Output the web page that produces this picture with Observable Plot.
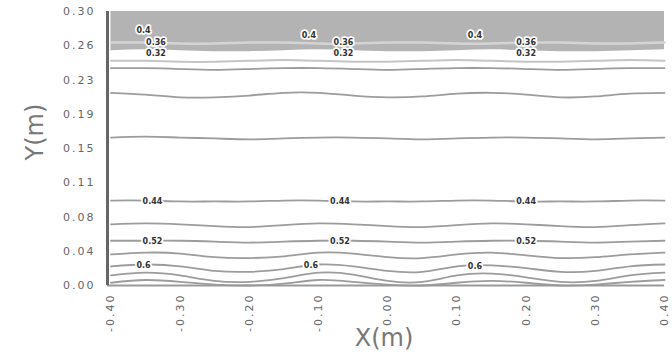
<!DOCTYPE html>
<html>
<head>
<meta charset="utf-8">
<script src="https://cdn.jsdelivr.net/npm/d3@7"></script>
<script src="https://cdn.jsdelivr.net/npm/@observablehq/plot@0.6"></script>
<style>
  html, body { margin: 0; padding: 0; background: #fff; }
  #chart svg { display: block; }
  g[aria-label="x-axis tick label"] text, g[aria-label="y-axis tick label"] text { letter-spacing: 2px; }
  g[aria-label="contour-label"] text { letter-spacing: 2.5px; }
  g[aria-label="axis-title"] text { letter-spacing: 4px; }
</style>
</head>
<body>
<div id="chart"></div>
<script>
// ---- data ----
const xs = [-0.4, -0.35, -0.3, -0.25, -0.2, -0.15, -0.1, -0.05, 0, 0.05, 0.1, 0.15, 0.2, 0.25, 0.3, 0.35, 0.4];

// lower edge of the shaded top band
const bandEdge = [0.257, 0.258, 0.257, 0.256, 0.256, 0.257, 0.258, 0.257, 0.256, 0.256, 0.257, 0.258, 0.257, 0.256, 0.256, 0.257, 0.258];
const bandStreak = [0.266, 0.266, 0.265, 0.265, 0.266, 0.266, 0.265, 0.265, 0.266, 0.266, 0.265, 0.265, 0.266, 0.266, 0.265, 0.265, 0.266];

const lineA = [0.246, 0.246, 0.245, 0.245, 0.246, 0.247, 0.246, 0.245, 0.245, 0.246, 0.247, 0.246, 0.245, 0.245, 0.246, 0.247, 0.246];
const lineB = [0.238, 0.238, 0.237, 0.236, 0.237, 0.238, 0.238, 0.237, 0.236, 0.237, 0.238, 0.238, 0.237, 0.236, 0.237, 0.238, 0.238];
const lineC = [0.211, 0.209, 0.206, 0.206, 0.208, 0.211, 0.211, 0.208, 0.206, 0.207, 0.210, 0.211, 0.209, 0.206, 0.207, 0.210, 0.211];
const lineD = [0.162, 0.163, 0.162, 0.161, 0.160, 0.161, 0.162, 0.162, 0.161, 0.160, 0.161, 0.162, 0.162, 0.161, 0.160, 0.161, 0.162];
const lineE = [0.093, 0.093, 0.092, 0.092, 0.092, 0.093, 0.093, 0.092, 0.092, 0.092, 0.093, 0.093, 0.092, 0.092, 0.092, 0.093, 0.093];
const lineF = [0.067, 0.068, 0.067, 0.065, 0.064, 0.066, 0.068, 0.067, 0.065, 0.064, 0.066, 0.068, 0.067, 0.065, 0.064, 0.066, 0.068];
const lineG = [0.049, 0.049, 0.049, 0.048, 0.047, 0.048, 0.049, 0.049, 0.048, 0.047, 0.048, 0.049, 0.049, 0.048, 0.047, 0.048, 0.049];
const lineH = [0.034, 0.036, 0.035, 0.031, 0.030, 0.032, 0.036, 0.035, 0.031, 0.030, 0.034, 0.036, 0.033, 0.030, 0.031, 0.034, 0.036];
const lineI = [0.021, 0.023, 0.021, 0.016, 0.015, 0.018, 0.023, 0.021, 0.016, 0.015, 0.021, 0.022, 0.019, 0.015, 0.016, 0.021, 0.023];
const lineJ = [0.011, 0.014, 0.011, 0.005, 0.004, 0.008, 0.014, 0.012, 0.005, 0.004, 0.011, 0.013, 0.009, 0.004, 0.005, 0.011, 0.014];
const lineK = [0.003, 0.006, 0.004, 0.001, 0.000, 0.002, 0.006, 0.004, 0.001, 0.000, 0.003, 0.005, 0.003, 0.000, 0.001, 0.004, 0.006];

const labelText = ["0.4", "0.36", "0.32", "0.4", "0.36", "0.32", "0.4", "0.36", "0.32",
                   "0.44", "0.44", "0.44", "0.52", "0.52", "0.52", "0.6", "0.6", "0.6"];
const labelX = [-0.353, -0.335, -0.335, -0.114, -0.064, -0.064, 0.126, 0.2, 0.2,
                -0.34, -0.069, 0.2, -0.34, -0.069, 0.2, -0.353, -0.111, 0.126];
const labelY = [0.279, 0.266, 0.254, 0.274, 0.266, 0.254, 0.274, 0.266, 0.254,
                0.092, 0.092, 0.092, 0.048, 0.048, 0.048, 0.022, 0.022, 0.021];

const xTicks = [-0.4, -0.3, -0.2, -0.1, 0, 0.1, 0.2, 0.3, 0.4];
const xTickLabels = ["-0.40", "-0.30", "-0.20", "-0.10", "0.00", "0.10", "0.20", "0.30", "0.40"];
const yTicks = [0, 0.0375, 0.075, 0.1125, 0.15, 0.1875, 0.225, 0.2625, 0.3];
const yTickLabels = ["0.00", "0.04", "0.08", "0.11", "0.15", "0.19", "0.23", "0.26", "0.30"];

// ---- tables built from the arrays ----
const band = xs.map((x, i) => ({x, y1: bandEdge[i]}));
const darkLines = {C: lineC, D: lineD, E: lineE, F: lineF, G: lineG, H: lineH, I: lineI, J: lineJ, K: lineK, B: lineB};
const contourRows = [];
for (const [k, arr] of Object.entries(darkLines)) arr.forEach((y, i) => contourRows.push({x: xs[i], y, k}));
const lightRows = lineA.map((y, i) => ({x: xs[i], y}));
const streakRows = bandStreak.map((y, i) => ({x: xs[i], y}));
const labels = labelText.map((t, i) => ({t, x: labelX[i], y: labelY[i]}));

const chart = Plot.plot({
  width: 672,
  height: 361,
  marginLeft: 107,
  marginRight: 8,
  marginTop: 11,
  marginBottom: 76,
  style: {background: "#fff", fontFamily: "DejaVu Sans, sans-serif"},
  x: {domain: [-0.405, 0.4]},
  y: {domain: [0, 0.3]},
  marks: [
    Plot.areaY(band, {x: "x", y1: "y1", y2: 0.3, fill: "#b3b3b3", curve: "natural"}),
    Plot.line(streakRows, {x: "x", y: "y", stroke: "#d4d4d4", strokeWidth: 2.5, curve: "natural"}),
    Plot.line(lightRows, {x: "x", y: "y", stroke: "#c4c4c4", strokeWidth: 2, curve: "natural"}),
    Plot.line(contourRows, {x: "x", y: "y", z: "k", stroke: "#9c9c9c", strokeWidth: 1.8, curve: "natural"}),
    Plot.text(labels, {x: "x", y: "y", text: "t", fill: "#333", stroke: "white", strokeWidth: 3.5, fontSize: 8, fontWeight: "bold", ariaLabel: "contour-label"}),
    Plot.ruleY([0], {stroke: "#999", strokeWidth: 2}),
    Plot.ruleX([-0.405], {y1: 0, y2: 0.3, stroke: "#666", strokeWidth: 3}),
    Plot.axisY({ticks: yTicks, tickFormat: d => yTickLabels[yTicks.indexOf(d)], tickSize: 0, tickPadding: 12, fontSize: 11, fill: "#666", label: null}),
    Plot.axisX({ticks: xTicks, tickFormat: d => xTickLabels[xTicks.indexOf(d)], tickRotate: -90, tickSize: 0, tickPadding: 8, fontSize: 11, fill: "#666", label: null}),
    Plot.text(["Y(m)"], {frameAnchor: "left", rotate: -90, dx: -72, dy: 12, fontSize: 24, fill: "#777", ariaLabel: "axis-title"}),
    Plot.text(["X(m)"], {frameAnchor: "bottom", dx: -2, dy: 60, fontSize: 24, fill: "#777", ariaLabel: "axis-title"})
  ]
});
document.getElementById("chart").appendChild(chart);
</script>
</body>
</html>
